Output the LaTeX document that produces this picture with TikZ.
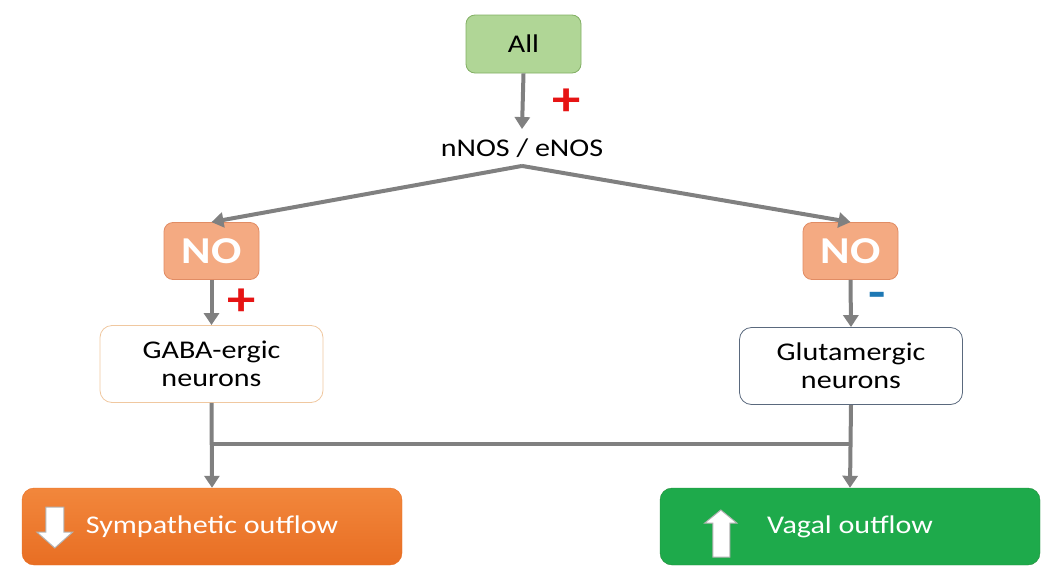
\documentclass[tikz,border=0pt]{standalone}
\usepackage{fontspec}
\setmainfont[FakeStretch=1.18]{Carlito}
\usepackage{tikz}
\usetikzlibrary{arrows.meta, positioning, calc}
\definecolor{linegray}{RGB}{128,128,128}
\definecolor{allgreen}{RGB}{176,214,150}
\definecolor{allborder}{RGB}{130,175,100}
\definecolor{nosalmon}{RGB}{244,170,130}
\definecolor{noborder}{RGB}{225,140,100}
\definecolor{gababorder}{RGB}{240,200,160}
\definecolor{glutborder}{RGB}{90,105,125}
\definecolor{symptop}{RGB}{242,135,60}
\definecolor{sympbot}{RGB}{232,110,35}
\definecolor{vagalgreen}{RGB}{30,170,75}
\definecolor{vagalborder}{RGB}{40,140,60}
\definecolor{plusred}{RGB}{230,20,20}
\definecolor{minusblue}{RGB}{30,120,180}

\begin{document}
\begin{tikzpicture}[
    x=1pt, y=-1pt,
    font=\fontsize{25.5}{28}\selectfont,
    conn/.style={draw=linegray, line width=4pt},
    arr/.style={conn, -{Triangle[width=15pt,length=12pt]}},
    startbox/.style={draw=allborder, thick, fill=allgreen, rounded corners=9pt, minimum width=115pt, minimum height=58pt},
    nobox/.style={draw=noborder, thick, fill=nosalmon, rounded corners=9pt, minimum width=95pt, minimum height=57pt, text=white, font=\fontsize{38}{40}\selectfont\bfseries},
    cell/.style={draw, thick, fill=white, rounded corners=12pt, minimum width=223pt, minimum height=77pt, align=center},
    outbox/.style={rounded corners=12pt, minimum width=380pt, minimum height=77pt, text=white},
    outarrow/.style={draw=gray!60, fill=white, line width=1pt},
    sign/.style={font=\fontsize{48}{48}\selectfont\bfseries}
]
    \useasboundingbox (0,0) rectangle (1050,581);

    % Top of the cascade
    \node[startbox] (all) at (523.5,44) {All};
    \node (nos) at (522,148) {nNOS / eNOS};

    % NO on both sides
    \node[nobox] (noleft) at (211.5,251) {NO};
    \node[nobox] (noright) at (850.5,251) {NO};

    % Neuron groups
    \node[cell, draw=gababorder] (gaba) at (211.5,364) {GABA-ergic\\neurons};
    \node[cell, draw=glutborder] (glut) at (851,366) {Glutamergic\\neurons};

    % Outflow boxes
    \node[outbox, top color=symptop, bottom color=sympbot, draw=sympbot] (symp) at (212,526.5) {Sympathetic outflow};
    \node[outbox, fill=vagalgreen, draw=vagalborder] (vagal) at (850,526.5) {Vagal outflow};

    % Arrows in the outflow boxes
    \begin{scope}[shift={(symp.west)}]
        \draw[outarrow] (24,-19.5) -- (42,-19.5) -- (42,5.5) -- (51,5.5) -- (33,21.5) -- (15,5.5) -- (24,5.5) -- cycle;
    \end{scope}
    \begin{scope}[shift={(vagal.west)}]
        \draw[outarrow] (61,-16.5) -- (77,-3.5) -- (70,-3.5) -- (70,30.5) -- (53,30.5) -- (53,-3.5) -- (45,-3.5) -- cycle;
    \end{scope}

    % Signs
    \node[sign, text=plusred] (plustop) at (567,102) {+};
    \node[sign, text=plusred] (plusleft) at (242,302) {+};
    \node[sign, text=minusblue] (minusright) at (877,300) {-};

    % Connectors
    \draw[arr] (all.south) -- ([yshift=6pt]nos.north);
    \draw[arr] ([yshift=-5pt]nos.south) -- (noleft.north);
    \draw[arr] ([yshift=-5pt]nos.south) -- (noright.north);
    \draw[arr] (noleft.south) -- (gaba.north);
    \draw[arr] (noright.south) -- (glut.north);
    \draw[arr] (gaba.south) -- (symp.north);
    \draw[arr] (glut.south) -- (vagal.north);
    \path (gaba.south) -- (symp.north) coordinate[pos=0.48] (jleft);
    \draw[conn] (jleft) -- (jleft -| glut.south);
\end{tikzpicture}
\end{document}
